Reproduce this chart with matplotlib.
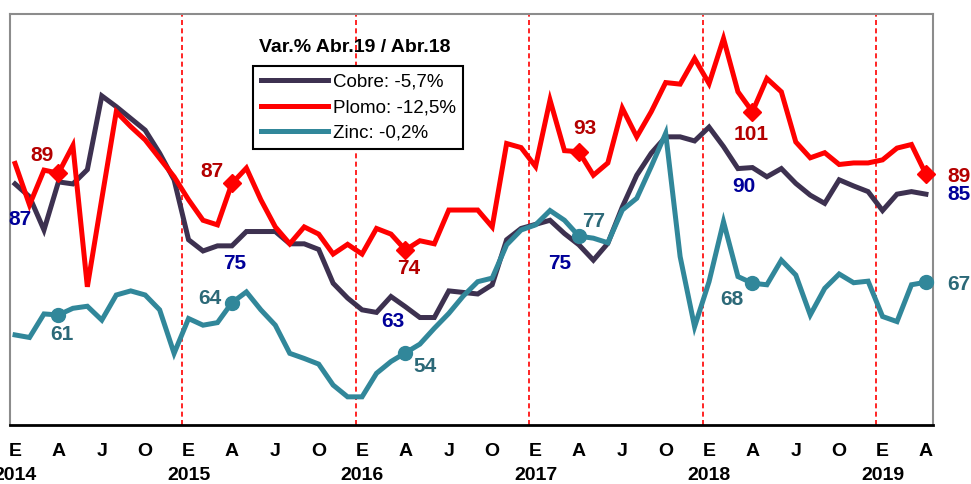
import matplotlib
matplotlib.use('Agg')
from matplotlib import pyplot as plt
import numpy as np

plt.rcParams['font.family'] = ['Liberation Sans', 'DejaVu Sans']

# monthly index, Jan 2014 .. Apr 2019
cobre = [86.9, 84.4, 77.9, 87.3, 86.9, 89.7, 104.1, 102.0, 99.7, 97.4, 92.9, 87.7,
         76.0, 73.8, 74.8, 74.8, 77.6, 77.6, 77.6, 75.2, 75.2, 74.1, 67.5, 64.6,
         62.3, 61.8, 64.9, 62.9, 60.8, 60.8, 66.0, 65.7, 65.4, 67.2, 76.0, 78.2,
         79.0, 79.8, 77.2, 75.0, 72.0, 75.3, 82.4, 88.6, 92.9, 96.1, 96.1, 95.3,
         98.0, 94.2, 89.9, 90.1, 88.3, 89.9, 87.0, 84.7, 83.1, 87.7, 86.5, 85.4,
         81.7, 84.9, 85.4, 84.9]
plomo = [90.9, 82.8, 89.6, 89.0, 94.4, 66.8, 84.0, 101.0, 98.1, 95.5, 91.9, 88.3,
         83.8, 79.8, 78.9, 87.0, 90.0, 83.8, 78.5, 75.2, 78.5, 77.1, 73.2, 75.1,
         73.2, 78.2, 77.1, 74.0, 75.8, 75.2, 81.8, 81.8, 81.8, 78.5, 94.8, 94.0,
         90.3, 103.3, 93.4, 93.2, 88.6, 91.0, 101.7, 96.1, 101.0, 106.7, 106.4, 111.4,
         106.5, 115.3, 104.9, 101.0, 107.5, 104.9, 95.1, 92.0, 93.0, 90.7, 91.0, 91.0,
         91.6, 93.9, 94.6, 88.8]
zinc = [57.4, 56.9, 61.5, 61.3, 62.6, 63.0, 60.3, 65.2, 66.0, 65.2, 62.3, 53.8,
        60.6, 59.3, 59.8, 63.7, 65.8, 62.3, 59.3, 53.8, 52.8, 51.7, 47.6, 45.3,
        45.3, 49.9, 52.2, 53.9, 55.6, 58.7, 61.6, 65.0, 67.8, 68.5, 75.0, 77.9,
        78.9, 81.7, 79.8, 76.7, 76.3, 75.4, 81.8, 84.1, 90.3, 96.8, 72.7, 59.0,
        67.8, 79.5, 68.8, 67.5, 67.2, 72.0, 69.1, 61.3, 66.5, 69.3, 67.6, 67.9,
        61.0, 60.0, 67.2, 67.7]

years = ['2014', '2015', '2016', '2017', '2018', '2019']
month_letters = ['E', 'A', 'J', 'O']
legend_labels = ['Cobre: -5,7%', 'Plomo: -12,5%', 'Zinc: -0,2%']
legend_title = 'Var.% Abr.19 / Abr.18'

# April points with value labels (label x, label y, text)
marker_idx = [3, 15, 27, 39, 51, 63]
plomo_lbl = [(1.85, 92.5, '89'), (13.6, 89.4, '87'), (27.25, 70.3, '74'),
             (39.4, 97.8, '93'), (50.9, 96.5, '101'), (65.3, 88.4, '89')]
cobre_lbl = [(0.35, 80.0, '87'), (15.2, 71.4, '75'), (26.1, 60.1, '63'),
             (37.7, 71.4, '75'), (50.4, 86.3, '90'), (65.3, 84.9, '85')]
zinc_lbl = [(3.25, 57.4, '61'), (13.5, 64.6, '64'), (28.35, 51.3, '54'),
            (40.0, 79.5, '77'), (49.6, 64.4, '68'), (65.3, 67.3, '67')]

c_cobre, c_plomo, c_zinc = '#3d3150', '#ff0000', '#31879a'
t_cobre, t_plomo, t_zinc = '#000099', '#b40000', '#2c6978'

fig = plt.figure(figsize=(9.71, 4.84), dpi=100)
ax = fig.add_axes([10 / 971, 1 - 425 / 484, 923 / 971, 411 / 484])

x = np.arange(len(cobre))
lw = 3.6
l1, = ax.plot(x, cobre, color=c_cobre, lw=lw, solid_joinstyle='miter', zorder=3)
l2, = ax.plot(x, plomo, color=c_plomo, lw=lw, solid_joinstyle='miter', zorder=4)
l3, = ax.plot(x, zinc, color=c_zinc, lw=lw, solid_joinstyle='miter', zorder=3)

ax.plot(marker_idx, [plomo[i] for i in marker_idx], 'D', color=c_plomo, ms=9, zorder=5, clip_on=False)
ax.plot(marker_idx, [zinc[i] for i in marker_idx], 'o', color=c_zinc, ms=10, zorder=5, clip_on=False)

for lbls, col in [(plomo_lbl, t_plomo), (cobre_lbl, t_cobre), (zinc_lbl, t_zinc)]:
    for lx, ly, s in lbls:
        ax.text(lx, ly, s, color=col, fontsize=15, fontweight='bold',
                ha='center', va='center', clip_on=False)

# year separators
for k in range(1, len(years)):
    ax.axvline(12 * k - 0.45, color='#ff0000', lw=1.2, ls=(0, (3, 2)), zorder=1)

ax.set_xlim(-0.35, 63.49)
ax.set_ylim(39.8, 120.1)

ticks = list(range(0, len(cobre), 3))
ax.set_xticks(ticks)
ax.set_xticklabels([month_letters[(t // 3) % 4] for t in ticks], fontsize=14, fontweight='bold')
ax.tick_params(axis='x', length=0, pad=13)
ax.set_yticks([])

for k, yr in enumerate(years):
    ax.text(12 * k, -0.124, yr, transform=ax.get_xaxis_transform(), ha='center', va='center',
            fontsize=14, fontweight='bold')

for side in ['left', 'top', 'right']:
    ax.spines[side].set_color('#8c8c8c')
    ax.spines[side].set_linewidth(1.5)
ax.spines['bottom'].set_color('black')
ax.spines['bottom'].set_linewidth(2)

fig.text(355 / 971, 1 - 47 / 484, legend_title, ha='center', va='center',
         fontsize=14, fontweight='bold')
leg = ax.legend([l1, l2, l3], legend_labels, loc='upper left',
                bbox_to_anchor=(243 / 923, 359 / 411), borderaxespad=0,
                fontsize=13.5, frameon=True, fancybox=False, handlelength=3.6,
                handletextpad=0.25, labelspacing=0.45, borderpad=0.4)
leg.get_frame().set_edgecolor('black')
leg.get_frame().set_linewidth(1.5)
leg.get_frame().set_alpha(1)

fig.savefig('out.png', dpi=100)
